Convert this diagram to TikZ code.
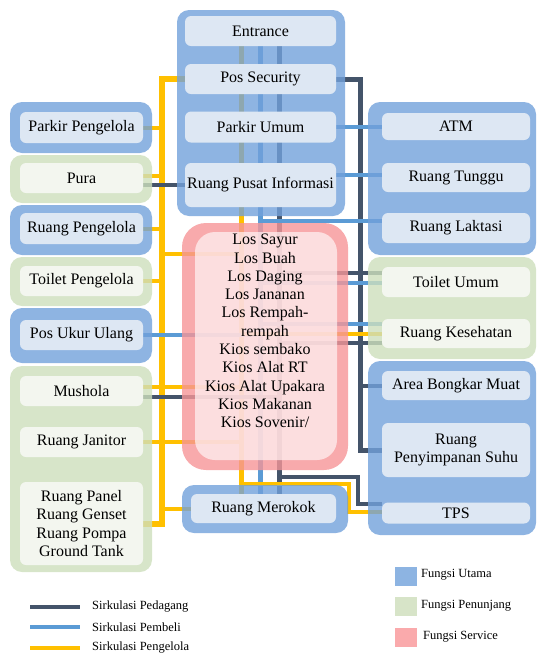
\documentclass[tikz,border=0pt]{standalone}
\usepackage{fontspec}
\setmainfont{Liberation Serif}[Ligatures=TeX]
\newfontfamily\boxfont{Liberation Serif}
\definecolor{outB}{RGB}{114,161,219}
\definecolor{outG}{RGB}{205,223,188}
\definecolor{outP}{RGB}{246,149,151}
\definecolor{inB}{RGB}{221,231,243}
\definecolor{inG}{RGB}{243,246,239}
\definecolor{inP}{RGB}{255,242,243}
\definecolor{cPed}{RGB}{68,84,106}
\definecolor{cPem}{RGB}{91,155,213}
\definecolor{cPgl}{RGB}{255,192,0}
\definecolor{legB}{RGB}{141,180,226}
\definecolor{legG}{RGB}{215,228,200}
\definecolor{legP}{RGB}{250,170,172}
\newcommand\fsbox{\boxfont\fontsize{16}{18.3}\selectfont}
\newcommand\fsleg{\boxfont\fontsize{12.5}{15}\selectfont}
\pgfdeclarelayer{lines}
\pgfdeclarelayer{grp}
\pgfsetlayers{lines,grp,main}
\begin{document}
\begin{tikzpicture}[x=1pt,y=-1pt,
  grpB/.style={fill=outB, fill opacity=0.8, rounded corners=12pt},
  grpG/.style={fill=outG, fill opacity=0.8, rounded corners=12pt},
  grpP/.style={fill=outP, fill opacity=0.8, rounded corners=24pt},
  boxbase/.style={rounded corners=6pt, inner sep=0pt, font=\fsbox, text=black, align=center},
  boxB/.style={boxbase, fill=inB},
  boxG/.style={boxbase, fill=inG},
  boxP/.style={boxbase, fill=inP, fill opacity=0.72, rounded corners=20pt},
  ped/.style={draw=cPed, line width=4pt},
  pem/.style={draw=cPem, line width=4pt},
  pgl/.style={draw=cPgl, line width=4pt},
  legtxt/.style={anchor=west, font=\fsleg, inner sep=0pt}]
\useasboundingbox (0,0) rectangle (537,654);

% ---------- inner boxes ----------
\node[boxB, minimum width=151pt, minimum height=30pt] (entr)   at (260.5,31)  {Entrance};
\node[boxB, minimum width=151pt, minimum height=30pt] (possec) at (260.5,79)  {Pos Security};
\node[boxB, minimum width=151pt, minimum height=31pt] (parkum) at (260.5,127) {Parkir Umum};
\node[boxB, minimum width=151pt, minimum height=44pt] (pusat)  at (260.5,185) {Ruang Pusat Informasi};
\node[boxB, minimum width=123pt, minimum height=31pt] (parkpg) at (81.5,127.5) {Parkir Pengelola};
\node[boxG, minimum width=123pt, minimum height=30pt] (pura)   at (81.5,178)   {Pura};
\node[boxB, minimum width=123pt, minimum height=31pt] (rpeng)  at (81.5,228.5) {Ruang Pengelola};
\node[boxG, minimum width=123pt, minimum height=30pt] (toipg)  at (81.5,281)   {Toilet Pengelola};
\node[boxB, minimum width=123pt, minimum height=30pt] (pukur)  at (81.5,335)   {Pos Ukur Ulang};
\node[boxG, minimum width=123pt, minimum height=30pt] (mush)   at (81.5,391)   {Mushola};
\node[boxG, minimum width=123pt, minimum height=30pt] (janit)  at (81.5,442)   {Ruang Janitor};
\node[boxG, minimum width=123pt, minimum height=83pt] (panel)  at (81.5,523.5) {Ruang Panel\\Ruang Genset\\Ruang Pompa\\Ground Tank};
\node[boxB, minimum width=148pt, minimum height=27pt] (atm)     at (456,126.5) {ATM};
\node[boxB, minimum width=148pt, minimum height=29pt] (tunggu)  at (456,177.5) {Ruang Tunggu};
\node[boxB, minimum width=148pt, minimum height=30pt] (laktasi) at (456,228)   {Ruang Laktasi};
\node[boxG, minimum width=148pt, minimum height=30pt] (toium)   at (456,282)   {Toilet Umum};
\node[boxG, minimum width=148pt, minimum height=29pt] (keseh)   at (456,333.5) {Ruang Kesehatan};
\node[boxB, minimum width=148pt, minimum height=29pt] (abm)     at (456,385.5) {Area Bongkar Muat};
\node[boxB, minimum width=148pt, minimum height=54pt] (penyim)  at (456,450)   {Ruang\\Penyimpanan Suhu};
\node[boxB, minimum width=148pt, minimum height=21pt] (tps)     at (456,513)   {TPS};
\node[boxP, minimum width=142pt, minimum height=228pt] (pinkin) at (266,346) {};
\node[font=\fsbox, align=center, inner sep=0pt, text=black] (lostext) at (265,331)
  {\baselineskip=18.5pt Los Sayur\\Los Buah\\Los Daging\\Los Jananan\\Los Rempah-\\rempah\\Kios sembako\\Kios Alat RT\\Kios Alat Upakara\\Kios Makanan\\Kios Sovenir/};
\node[boxB, minimum width=145pt, minimum height=29pt] (mrk) at (263.5,508.5) {Ruang Merokok};

% ---------- group backgrounds ----------
\begin{pgfonlayer}{grp}
\path[grpB] (177,10) rectangle (345,216);
\path[grpB] (10,102) rectangle (152,153);
\path[grpG] (10,155) rectangle (152,203);
\path[grpB] (10,205) rectangle (152,255);
\path[grpG] (10,257) rectangle (152,306);
\path[grpB] (10,308) rectangle (152,363);
\path[grpG] (10,366) rectangle (152,572);
\path[grpB] (368,102) rectangle (536,255);
\path[grpG] (368,257) rectangle (536,359);
\path[grpB] (368,361) rectangle (536,535);
\path[grpP] (182,223) rectangle (348,470);
\path[grpB] (182,485) rectangle (348,533);
\end{pgfonlayer}

% ---------- connectors ----------
\begin{pgfonlayer}{lines}
\coordinate (vxY) at (241,0);
\coordinate (vxB) at (260,0);
\coordinate (vxD) at (279,0);
\draw[pgl,line width=5pt] (entr.south -| vxY) -- (mrk.north -| vxY);
\draw[pem,line width=5pt] (entr.south -| vxB) -- (mrk.north -| vxB);
\draw[ped,line width=5pt] (entr.south -| vxD) -- (mrk.north -| vxD);
\coordinate (yt) at (162,79);
\coordinate (yb) at (162,524);
\draw[pgl,line width=6pt] (possec.west) -- (yt) -- (yb) -- (yb -| panel.east);
\draw[pgl] (parkpg.east) -- (parkpg.east -| yt);
\coordinate (pu1) at ([yshift=2pt]pura.east);
\draw[pgl] (pu1) -- (pu1 -| yt);
\coordinate (pu2) at ([yshift=-7pt]pura.east);
\draw[ped] (pu2) -- (pu2 -| pusat.west);
\draw[pgl] (rpeng.east) -- (rpeng.east -| yt);
\coordinate (ys1) at (162,254);
\draw[pgl] (ys1) -- (ys1 -| vxY);
\draw[pgl] (toipg.east) -- (toipg.east -| yt);
\draw[pem] (pukur.east) -- (pukur.east -| vxB);
\coordinate (mu1) at ([yshift=4pt]mush.east);
\draw[pgl] (mu1) -- (mu1 -| vxY);
\coordinate (mu2) at ([yshift=-6pt]mush.east);
\draw[ped] (mu2) -- (mu2 -| vxD);
\draw[pgl] (janit.east) -- (janit.east -| vxY);
\draw[pgl] (mrk.west -| yt) -- (mrk.west);
\coordinate (dt) at (360,79);
\coordinate (db) at (360,450);
\draw[ped,line width=5pt] (possec.east) -- (dt) -- (db) -- (penyim.west);
\draw[ped] (abm.west -| dt) -- (abm.west);
\draw[pem] (parkum.east) -- (parkum.east -| atm.west);
\coordinate (pi1) at ([yshift=10pt]pusat.east);
\draw[pem] (pi1) -- (pi1 -| tunggu.west);
\coordinate (lk) at (260,221);
\draw[pem] (lk) -- (lk -| laktasi.west);
\coordinate (tu1) at (279,273);
\draw[ped] (tu1) -- (tu1 -| toium.west);
\coordinate (tu2) at (260,283);
\draw[pem] (tu2) -- (tu2 -| toium.west);
\coordinate (ks1) at (260,324);
\draw[pem] (ks1) -- (ks1 -| keseh.west);
\coordinate (ks2) at (241,334);
\draw[pgl] (ks2) -- (ks2 -| keseh.west);
\coordinate (ks3) at (279,343);
\draw[ped] (ks3) -- (ks3 -| keseh.west);
\coordinate (tpk) at (358,0);
\coordinate (tp1) at (279,477);
\coordinate (tpd) at ([yshift=9pt]tps.west);
\draw[ped] (tp1) -- (tp1 -| tpk) -- (tpd -| tpk) -- (tpd);
\coordinate (tyk) at (349,0);
\coordinate (ty1) at (241,484);
\coordinate (tpy) at ([yshift=1pt]tps.west);
\draw[pgl] (ty1) -- (ty1 -| tyk) -- (tpy -| tyk) -- (tpy);
\end{pgfonlayer}

% ---------- legend ----------
\draw[ped,line width=4.5pt] (30,607) -- (80,607);
\draw[pem,line width=4.5pt] (30,627) -- (80,627);
\draw[pgl,line width=4.5pt] (30,648) -- (80,648);
\node[legtxt] (lg1) at (92,607) {Sirkulasi Pedagang};
\node[legtxt] (lg2) at (92,627) {Sirkulasi Pembeli};
\node[legtxt] (lg3) at (92,648) {Sirkulasi Pengelola};
\node[fill=legB, minimum width=22pt, minimum height=19pt, inner sep=0pt] (sq1) at (406,576) {};
\node[fill=legG, minimum width=22pt, minimum height=19pt, inner sep=0pt] (sq2) at (406,606) {};
\node[fill=legP, minimum width=22pt, minimum height=19pt, inner sep=0pt] (sq3) at (406,637) {};
\node[legtxt] (lq1) at (421,575) {Fungsi Utama};
\node[legtxt] (lq2) at (421,606) {Fungsi Penunjang};
\node[legtxt] (lq3) at (423,637) {Fungsi Service};
\end{tikzpicture}
\end{document}
